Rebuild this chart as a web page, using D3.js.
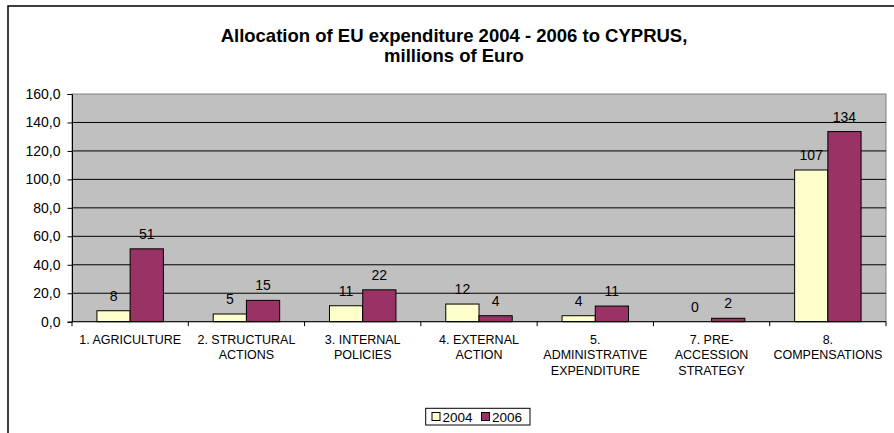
<!DOCTYPE html>
<html>
<head>
<meta charset="utf-8">
<script src="https://cdn.jsdelivr.net/npm/d3@7"></script>
<style>
  html, body { margin: 0; padding: 0; background: #fff; }
  svg { display: block; font-family: Arial, "Liberation Sans", sans-serif; }
</style>
</head>
<body>
<svg id="chart" width="894" height="433"></svg>
<script>
// ---- data ----
const categories = [
  ["1. AGRICULTURE"],
  ["2. STRUCTURAL", "ACTIONS"],
  ["3. INTERNAL", "POLICIES"],
  ["4. EXTERNAL", "ACTION"],
  ["5.", "ADMINISTRATIVE", "EXPENDITURE"],
  ["7. PRE-", "ACCESSION", "STRATEGY"],
  ["8.", "COMPENSATIONS"]
];
const seriesNames = ["2004", "2006"];
const values2004 = [7.7, 5.4, 11.2, 12.4, 4.2, 0, 106.6];
const values2006 = [51.2, 15.0, 22.4, 4.2, 11.0, 2.4, 133.6];
const yTicks = [0, 20, 40, 60, 80, 100, 120, 140, 160];
const titleLines = ["Allocation of EU expenditure 2004 - 2006 to CYPRUS,", "millions of Euro"];

// ---- layout ----
const colors = {"2004": "#FFFFCC", "2006": "#993366"};
const svg = d3.select("#chart");
const plot = {left: 72, right: 886, top: 94, bottom: 321.7};

// outer chart frame (cropped on right/bottom)
svg.append("rect").attr("x", 8).attr("y", 6).attr("width", 1000).attr("height", 1000)
  .attr("fill", "#fff").attr("stroke", "#000").attr("stroke-width", 1.5);

// title
svg.append("g").selectAll("text").data(titleLines).join("text")
  .attr("x", 454).attr("y", (d, i) => 42 + i * 20)
  .attr("text-anchor", "middle").attr("font-size", 18.5).attr("font-weight", "bold")
  .attr("fill", "#000").text(d => d);

const catIdx = d3.range(categories.length);
const x0 = d3.scaleBand().domain(catIdx).range([plot.left, plot.right]).padding(0);
const x1 = d3.scaleBand().domain(seriesNames).range([0, x0.bandwidth()]).paddingInner(0).paddingOuter(0.75);
const y = d3.scaleLinear().domain([0, 160]).range([plot.bottom, plot.top]);

// plot background
svg.append("rect").attr("x", plot.left).attr("y", plot.top)
  .attr("width", plot.right - plot.left).attr("height", plot.bottom - plot.top)
  .attr("fill", "#C0C0C0").attr("stroke", "#808080").attr("stroke-width", 1);

// gridlines
svg.append("g").selectAll("line").data(yTicks.filter(t => t > 0 && t < 160)).join("line")
  .attr("x1", plot.left).attr("x2", plot.right)
  .attr("y1", d => y(d)).attr("y2", d => y(d))
  .attr("stroke", "#000").attr("stroke-width", 1);

// y axis
const yAxis = svg.append("g").attr("transform", `translate(${plot.left},0)`)
  .call(d3.axisLeft(y).tickValues(yTicks).tickSize(4.5).tickPadding(7)
    .tickFormat(d => d3.format(".1f")(d).replace(".", ",")));
yAxis.select(".domain").attr("stroke", "#000");
yAxis.selectAll(".tick line").attr("stroke", "#000");
yAxis.selectAll("text").attr("font-size", 14).attr("font-family", "Arial, 'Liberation Sans', sans-serif").attr("fill", "#000");

// bars
const data = catIdx.map(i => ({i, vals: [
  {key: "2004", v: values2004[i]}, {key: "2006", v: values2006[i]}]}));
const groups = svg.append("g").selectAll("g").data(data).join("g")
  .attr("transform", d => `translate(${x0(d.i)},0)`);
groups.selectAll("rect").data(d => d.vals).join("rect")
  .attr("x", d => x1(d.key)).attr("width", x1.bandwidth())
  .attr("y", d => y(d.v)).attr("height", d => y(0) - y(d.v))
  .attr("fill", d => colors[d.key]).attr("stroke", "#000").attr("stroke-width", 1);
groups.selectAll("text").data(d => d.vals).join("text")
  .attr("x", d => x1(d.key) + x1.bandwidth() / 2)
  .attr("y", d => y(d.v) - 10)
  .attr("text-anchor", "middle").attr("font-size", 14).attr("fill", "#000")
  .text(d => d3.format(".0f")(d.v));

// x axis
const xAxisG = svg.append("g").attr("transform", `translate(0,${plot.bottom})`);
xAxisG.append("line").attr("x1", plot.left).attr("x2", plot.right).attr("stroke", "#000");
xAxisG.selectAll("line.tk").data(d3.range(categories.length + 1)).join("line")
  .attr("class", "tk")
  .attr("x1", d => plot.left + d * x0.step()).attr("x2", d => plot.left + d * x0.step())
  .attr("y1", 0).attr("y2", 4.5).attr("stroke", "#000");
const catText = xAxisG.selectAll("text").data(catIdx).join("text")
  .attr("x", d => x0(d) + x0.bandwidth() / 2).attr("y", 22)
  .attr("text-anchor", "middle").attr("font-size", 12.5).attr("fill", "#000");
catText.selectAll("tspan").data(d => categories[d].map((t, j) => ({t, j}))).join("tspan")
  .attr("x", function() { return d3.select(this.parentNode).attr("x"); })
  .attr("dy", d => d.j === 0 ? 0 : 15.5).text(d => d.t);

// legend
const lg = svg.append("g");
lg.append("rect").attr("x", 425.7).attr("y", 408.3).attr("width", 104.3).attr("height", 16.7)
  .attr("fill", "#fff").attr("stroke", "#000").attr("stroke-width", 1);
const lgx = [432, 481.5];
seriesNames.forEach((s, i) => {
  lg.append("rect").attr("x", lgx[i]).attr("y", 412.5).attr("width", 8).attr("height", 8)
    .attr("fill", colors[s]).attr("stroke", "#000").attr("stroke-width", 1);
  lg.append("text").attr("x", lgx[i] + 10.5).attr("y", 421.8)
    .attr("font-size", 13.5).attr("fill", "#000").text(s);
});
</script>
</body>
</html>
